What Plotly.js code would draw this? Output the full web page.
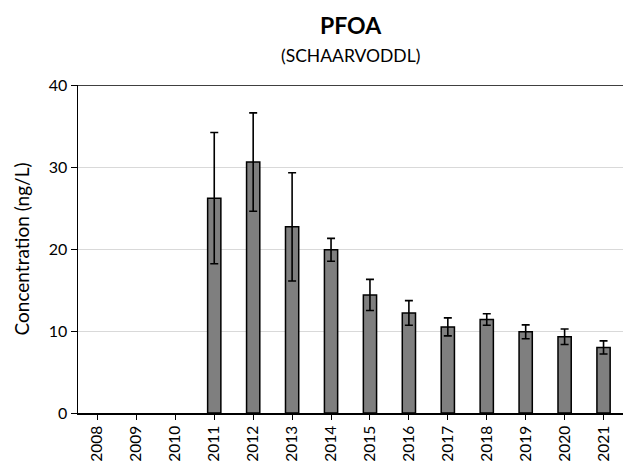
<!DOCTYPE html>
<html>
<head>
<meta charset="utf-8">
<script src="https://cdn.plot.ly/plotly-3.0.1.min.js"></script>
<style>html,body{margin:0;padding:0;background:#fff;}#chart{width:623px;height:463px;}</style>
</head>
<body>
<div id="chart"></div>
<script>
const years = ['2008','2009','2010','2011','2012','2013','2014','2015','2016','2017','2018','2019','2020','2021'];
const values = [null, null, null, 26.2, 30.6, 22.7, 19.9, 14.4, 12.2, 10.5, 11.4, 9.9, 9.3, 8.0];
const errors = [null, null, null, 8.0, 6.0, 6.6, 1.4, 1.9, 1.5, 1.1, 0.7, 0.85, 0.95, 0.8];

const trace = {
  type: 'bar',
  x: years,
  y: values,
  marker: {color: '#7f7f7f', line: {color: '#000', width: 1.5}},
  error_y: {type: 'data', array: errors, visible: true, color: '#000', thickness: 1.6, width: 4},
  hoverinfo: 'x+y'
};

const layout = {
  width: 623, height: 463,
  margin: {l: 78, r: 0, t: 85, b: 50},
  paper_bgcolor: '#fff', plot_bgcolor: '#fff',
  font: {family: 'Lato, "Open Sans", sans-serif', color: '#000'},
  bargap: 0.66,
  showlegend: false,
  xaxis: {
    type: 'category',
    showline: true, linecolor: '#000', linewidth: 1.5,
    ticks: 'outside', ticklen: 5, tickcolor: '#000', tickwidth: 1,
    tickangle: -90, tickfont: {size: 15.5},
    showgrid: false, zeroline: false
  },
  yaxis: {
    range: [0, 40], tickvals: [0, 10, 20, 30, 40],
    showline: true, linecolor: '#000', linewidth: 1.5,
    ticks: 'outside', ticklen: 6, tickcolor: '#000',
    tickfont: {size: 16},
    showgrid: true, gridcolor: '#d9d9d9', gridwidth: 1,
    zeroline: false,
    title: {text: 'Concentration (ng/L)', font: {size: 19}, standoff: 14}
  },
  shapes: [{type: 'line', xref: 'paper', yref: 'y', x0: 0, x1: 1, y0: 40, y1: 40, line: {color: '#000', width: 1.5}}],
  annotations: [
    {text: '<b>PFOA</b>', xref: 'paper', yref: 'paper', x: 0.5, y: 1, yshift: 60, xanchor: 'center', yanchor: 'middle', showarrow: false, font: {size: 23}},
    {text: '(SCHAARVODDL)', xref: 'paper', yref: 'paper', x: 0.5, y: 1, yshift: 30, xanchor: 'center', yanchor: 'middle', showarrow: false, font: {size: 17.5}}
  ]
};

Plotly.newPlot('chart', [trace], layout, {displayModeBar: false, staticPlot: true});
</script>
</body>
</html>
